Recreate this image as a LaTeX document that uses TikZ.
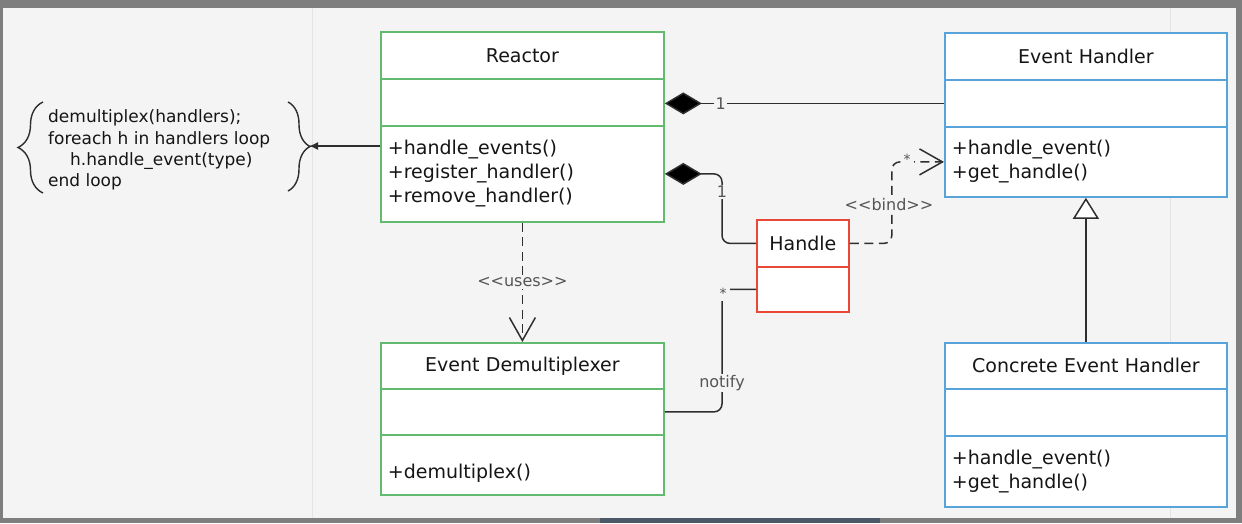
\documentclass[tikz,border=0pt]{standalone}
\usepackage{fontspec}
\setmainfont{DejaVu Sans}[Ligatures=TeXOff]
\usetikzlibrary{arrows.meta,decorations.pathreplacing,calc}
\definecolor{framegray}{HTML}{7E7E7E}
\definecolor{canvas}{HTML}{F4F4F4}
\definecolor{umlgreen}{RGB}{98,186,110}
\definecolor{umlblue}{RGB}{88,164,218}
\definecolor{umlred}{RGB}{232,72,54}
\definecolor{ink}{HTML}{151515}
\definecolor{wire}{HTML}{2E2E2E}
\definecolor{lbl}{HTML}{555555}
\definecolor{faint}{HTML}{E4E4E4}
\definecolor{taskbar}{HTML}{4A5868}
\begin{document}
\begin{tikzpicture}[x=1pt,y=-1pt,
  comp/.style={draw, fill=white, line width=1.8pt, anchor=north west, inner xsep=7pt, inner ysep=0pt, text=ink, font=\fontsize{19}{24}\selectfont},
  hdr/.style={comp, align=center},
  mth/.style={comp, align=left},
  gbox/.style={draw=umlgreen, text width=269pt},
  bbox/.style={draw=umlblue, text width=268pt},
  rbox/.style={draw=umlred, text width=78pt},
  wireline/.style={draw=wire, line width=1.5pt},
  dashline/.style={wireline, dash pattern=on 9pt off 5.5pt},
  lab/.style={fill=canvas, text=lbl, font=\fontsize{16}{18}\selectfont, inner sep=1.5pt},
  star/.style={fill=canvas, text=lbl, font=\fontsize{14}{14}\selectfont, inner sep=3pt},
  diam/.style={{Diamond[length=37pt,width=22pt,fill=black]}-},
  openv/.style={-{Straight Barb[length=23pt,width=26pt]}},
]
\useasboundingbox (0,0) rectangle (1242,523);
\fill[framegray] (0,0) rectangle (1242,523);
\fill[canvas] (3,8) rectangle (1236,518);
\fill[taskbar] (600,518) rectangle (880,523);
\draw[faint, line width=1pt] (312,8) -- (312,518);
\draw[faint, line width=1pt] (1170,8) -- (1170,518);

% Reactor
\node[hdr, gbox, minimum height=47pt] (rh) at (380,31) {Reactor};
\node[comp, gbox, minimum height=47pt] (ra) at (380,78) {};
\node[mth, gbox, minimum height=96pt] (rm) at (380,125) {+handle\_events()\\+register\_handler()\\+remove\_handler()};

% Event Handler
\node[hdr, bbox, minimum height=47pt] (eh) at (944,32) {Event Handler};
\node[comp, bbox, minimum height=47pt] (ea) at (944,79) {};
\node[mth, bbox, minimum height=70pt] (em) at (944,126) {+handle\_event()\\+get\_handle()};

% Event Demultiplexer
\node[hdr, gbox, minimum height=46pt] (dh) at (380,342) {Event Demultiplexer};
\node[comp, gbox, minimum height=46pt] (da) at (380,388) {};
\node[mth, gbox, minimum height=60pt] (dm) at (380,434) {\raisebox{-6pt}[\height][0pt]{+demultiplex()}};

% Concrete Event Handler
\node[hdr, bbox, minimum height=46pt] (ch) at (944,342) {Concrete Event Handler};
\node[comp, bbox, minimum height=47pt] (ca) at (944,388) {};
\node[mth, bbox, minimum height=71pt] (cm) at (944,435) {+handle\_event()\\+get\_handle()};

% Handle
\node[hdr, rbox, minimum height=47pt] (hh) at (756,219) {Handle};
\node[comp, rbox, minimum height=45pt] (ha) at (756,266) {};

% Note
\node[anchor=west, align=left, text=ink, font=\fontsize{17}{21.3}\selectfont, inner sep=0pt] (note) at (48,150)
  {demultiplex(handlers);\\foreach h in handlers loop\\\hspace*{22pt}h.handle\_event(type)\\end loop};
\draw[wire, line width=1.4pt, decorate, decoration={brace, amplitude=25pt}] (43,193) -- (43,102);
\draw[wire, line width=1.4pt, decorate, decoration={brace, amplitude=22pt}] (288,102) -- (288,191);
\coordinate (tip) at (309,146);
\draw[wireline, -{Latex[length=9pt,width=8pt]}] ($(rm.north west)+(0,21)$) -- (tip);

% Reactor -- Event Handler composition
\draw[wireline, diam] (ra.east |- ea.west) -- (ea.west) node[lab, pos=0.2] {1};

% Reactor -- Handle composition
\draw[wireline, diam, rounded corners=8pt] (rm.east) -| ($(hh.west)+(-34,0)$) -- (hh.west);
\node[lab] (one2) at (722,192) {1};

% Handle bind Event Handler
\draw[dashline, openv, rounded corners=8pt] (hh.east) -- ++(42,0) |- (em.west);
\node[lab] (bindlab) at (889,205) {<<bind>>};
\node[star] (bindstar) at (907,159) {*};

% uses
\draw[dashline, openv] (rm.south) -- (dh.north) node[lab, midway] {<<uses>>};

% notify
\draw[wireline, rounded corners=8pt] (da.east) -| ($(ha.west)+(-34,0)$) -- (ha.west);
\node[lab] (notifylab) at (722,383) {notify};
\node[star] (notifystar) at (723,293) {*};

% inheritance
\draw[wireline, -{Triangle[open,length=21pt,width=26pt,fill=white]}] (ch.north) -- (em.south);
\end{tikzpicture}
\end{document}
